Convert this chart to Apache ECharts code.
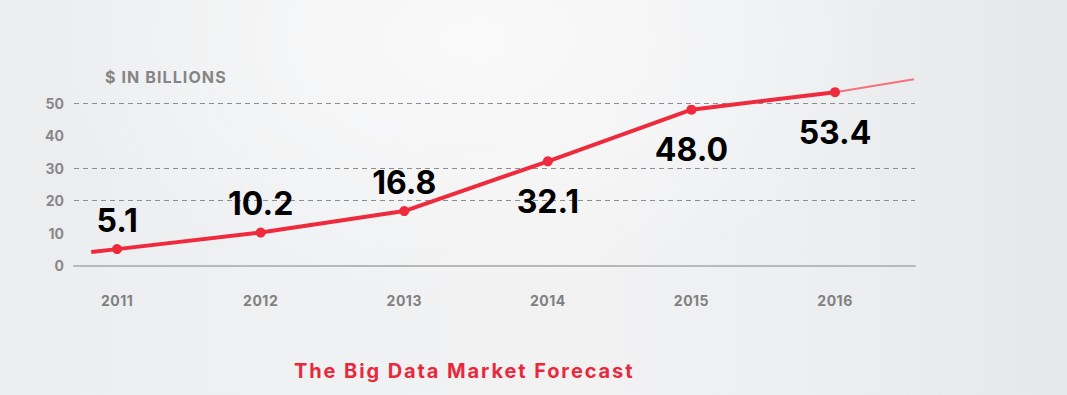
<!DOCTYPE html>
<html><head><meta charset="utf-8">
<script src="https://cdn.jsdelivr.net/npm/echarts@6/dist/echarts.min.js"></script>
<style>
html,body{margin:0;padding:0;}
body{width:1067px;height:395px;overflow:hidden;
background:
 radial-gradient(ellipse 420px 260px at 470px 40px, rgba(250,250,251,0.9), rgba(250,250,251,0) 100%),
 linear-gradient(90deg,#ecedee 0%,#f0f1f2 30%,#f2f2f3 55%,#eceef0 78%,#e5e7e9 100%);}
#c svg text[fill="#e8293d"]{letter-spacing:1.9px;}
#c svg text[fill="#858585"]{letter-spacing:1.1px;}
#c svg text[fill="#808080"]{letter-spacing:0.5px;}
</style>
</head><body>
<div id="c" style="width:1067px;height:395px"></div>
<script>
const years = [2011, 2012, 2013, 2014, 2015, 2016];
const values = [5.1, 10.2, 16.8, 32.1, 48.0, 53.4];
const yTickValues = [0, 10, 20, 30, 40, 50, 60];
const dashedGridAt = [20, 30, 50];
const leadIn = [2010.82, 4.2];
const tail = [2016.55, 57.35];
const unitLabel = '$ IN BILLIONS';
const chartTitle = 'The Big Data Market Forecast';

const FONT = 'Inter, "Open Sans", sans-serif';
const RED = '#ee2a3c';

const mainData = [{value: leadIn, symbol: 'none', label: {show: false}}].concat(
  years.map((y, i) => ({
    value: [y, values[i]],
    label: {
      show: true,
      position: i < 3 ? 'top' : 'bottom',
      distance: i < 3 ? 8 : 19,
      formatter: values[i].toFixed(1)
    }
  }))
);

const chart = echarts.init(document.getElementById('c'), null, {renderer: 'svg'});
chart.setOption({
  backgroundColor: 'transparent',
  animation: false,
  title: [
    {text: unitLabel, left: 105, top: 69, padding: 0,
     textStyle: {color: '#858585', fontSize: 16, fontWeight: 'bold', fontFamily: FONT}},
    {text: chartTitle, left: 294, top: 361, padding: 0,
     textStyle: {color: '#e8293d', fontSize: 20, fontWeight: 'bold', fontFamily: FONT}}
  ],
  grid: {left: 74, right: 152, top: 70.7, bottom: 129.3, containLabel: false},
  xAxis: {
    type: 'value', min: 2010.7, max: 2016.557, minInterval: 1, maxInterval: 1,
    axisLine: {show: true, lineStyle: {color: '#b9b9b9', width: 2}},
    axisTick: {show: false},
    splitLine: {show: false},
    axisLabel: {
      margin: 28, color: '#808080', fontSize: 14, fontWeight: 'bold', fontFamily: FONT,
      showMinLabel: false, showMaxLabel: false,
      formatter: v => (Number.isInteger(v) && years.includes(v)) ? String(v) : ''
    }
  },
  yAxis: {
    type: 'value', min: 0, max: 60, interval: 10,
    axisLine: {show: false}, axisTick: {show: false},
    axisLabel: {
      margin: 10, align: 'right', verticalAlign: 'middle', padding: [0, 0, 8, 0],
      color: '#888888', fontSize: 14, fontWeight: 'bold', fontFamily: FONT,
      formatter: v => v === 60 ? '' : String(v)
    },
    splitLine: {
      show: true,
      lineStyle: {
        type: [5, 4], width: 1,
        color: yTickValues.map(v => dashedGridAt.includes(v) ? '#8e8e8e' : 'rgba(0,0,0,0)')
      }
    }
  },
  series: [
    {
      type: 'line', data: [[years[years.length - 1], values[values.length - 1]], tail],
      symbol: 'none', lineStyle: {color: '#f4717e', width: 2}, z: 1, silent: true
    },
    {
      type: 'line', data: mainData, symbol: 'circle', symbolSize: 10,
      itemStyle: {color: RED}, lineStyle: {color: RED, width: 4}, z: 2,
      label: {color: '#000', fontSize: 32, fontWeight: 'bold', fontFamily: FONT}
    }
  ]
});
</script>
</body></html>
